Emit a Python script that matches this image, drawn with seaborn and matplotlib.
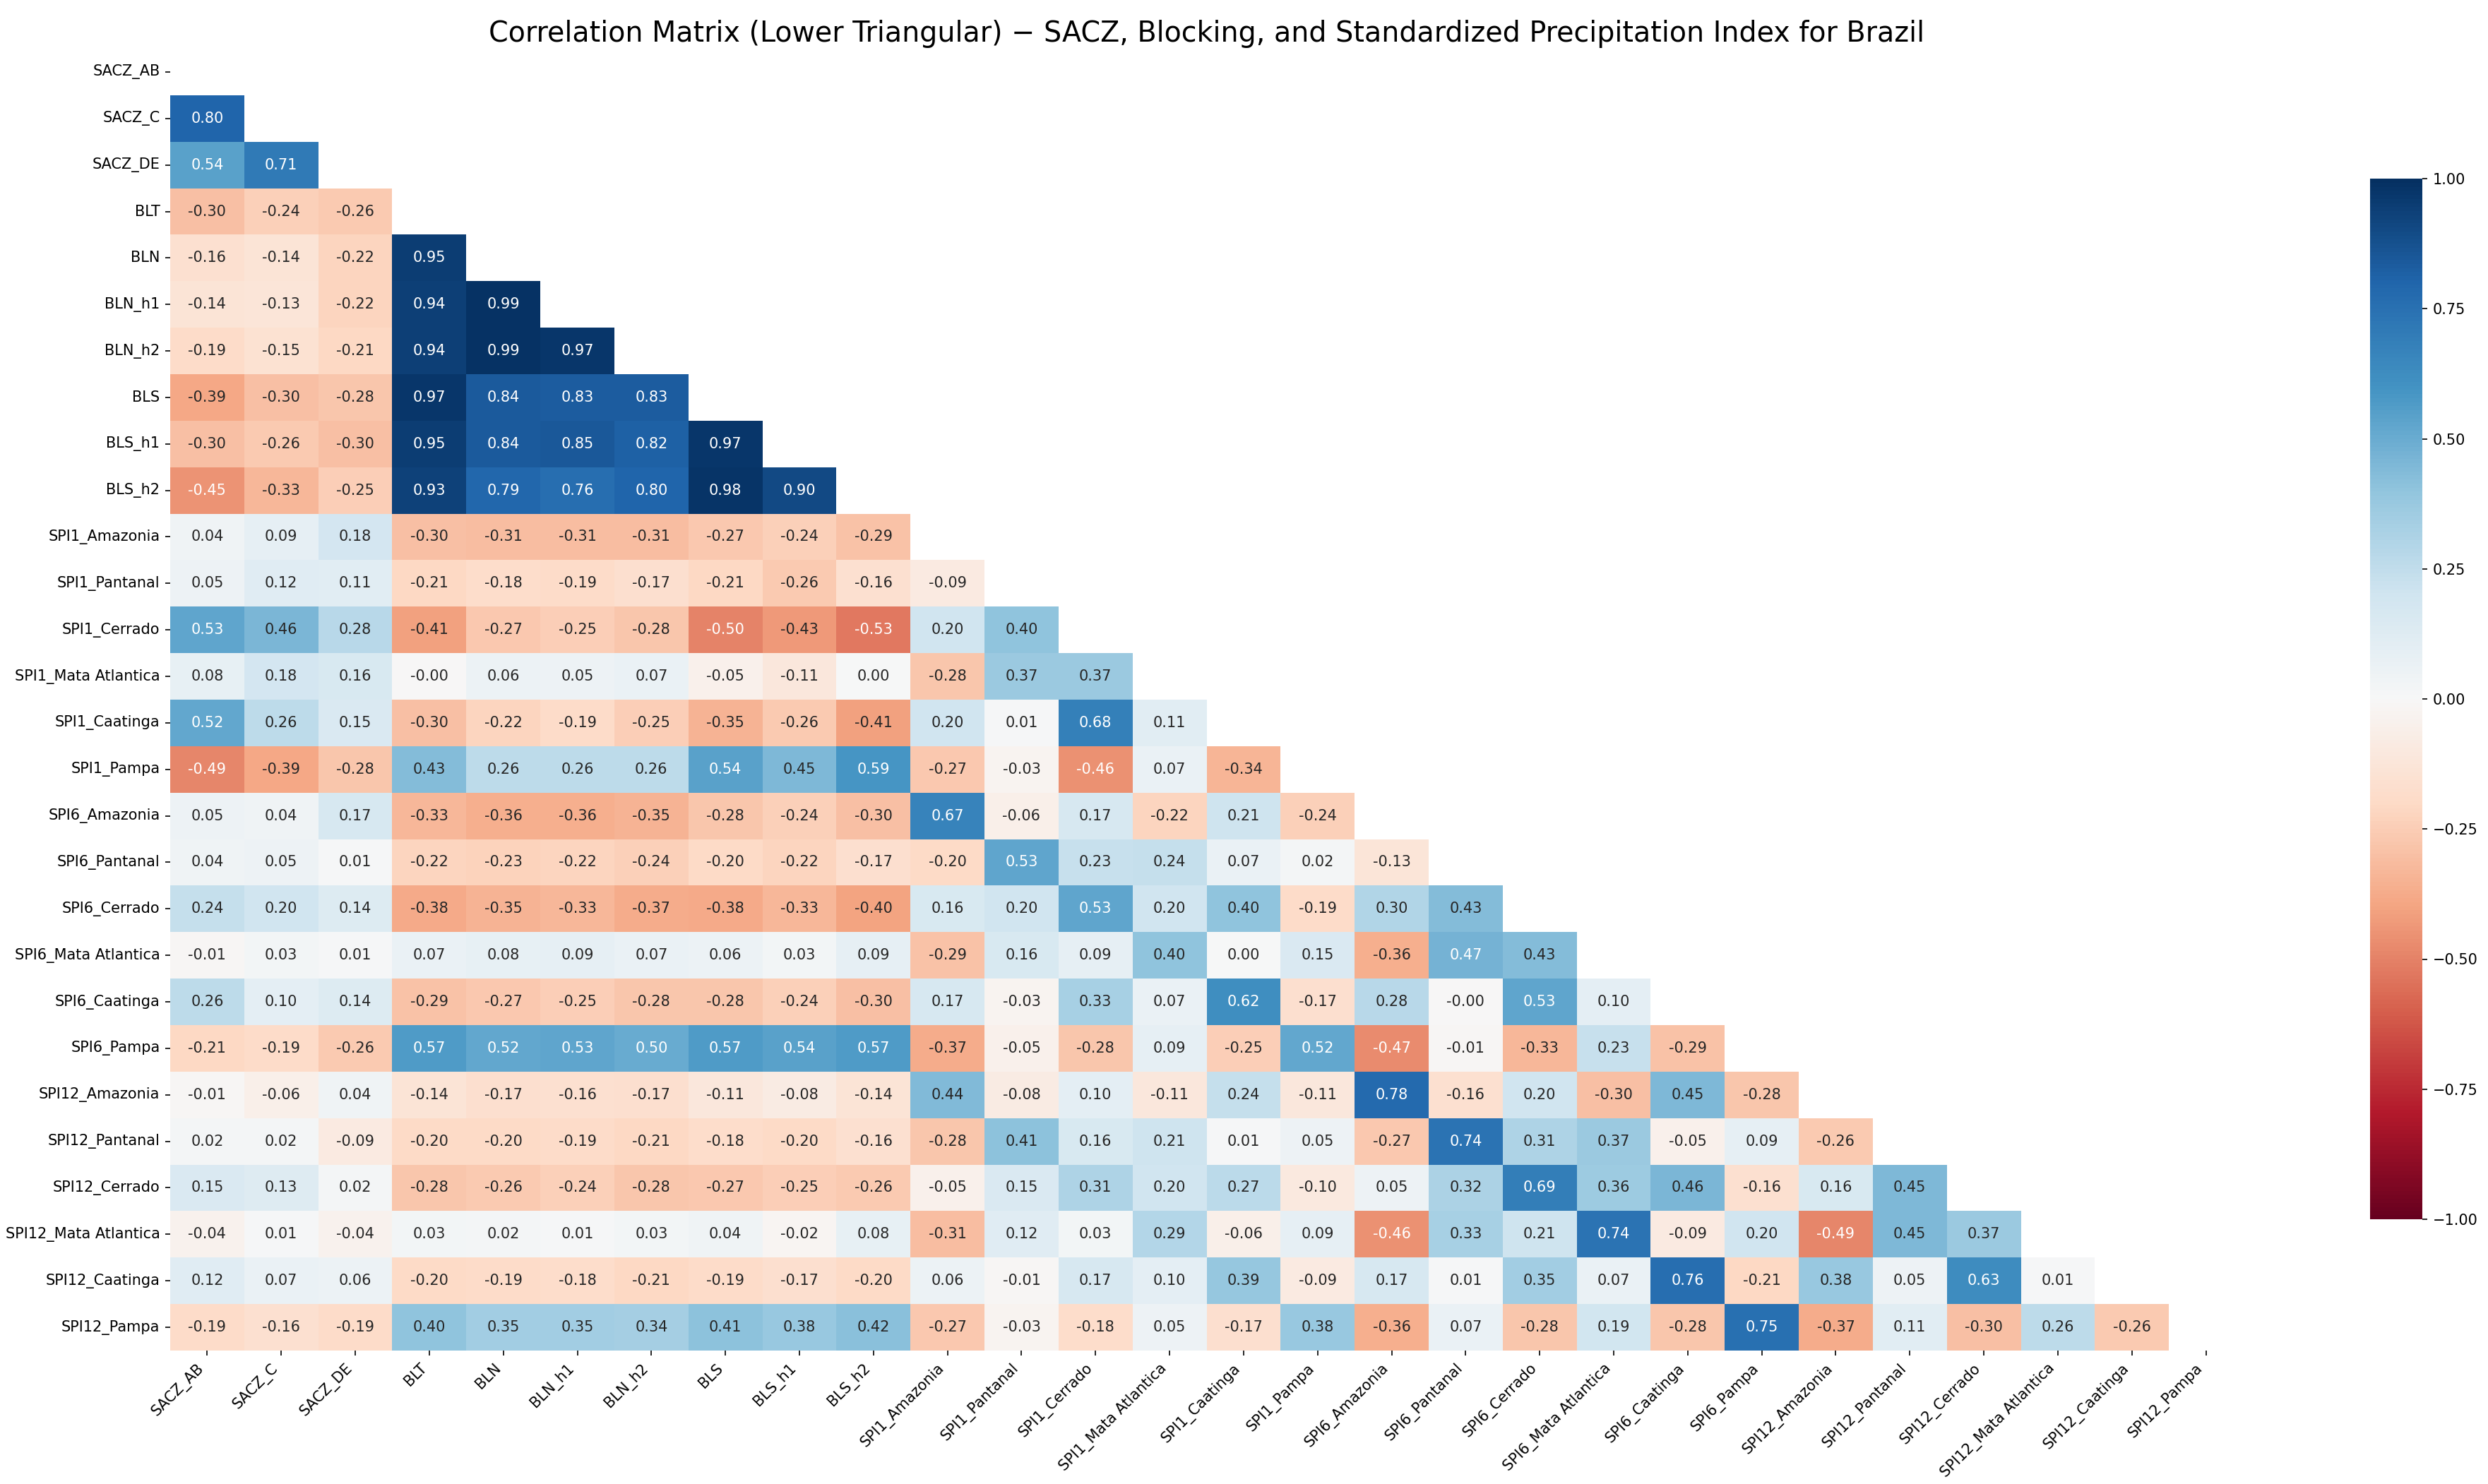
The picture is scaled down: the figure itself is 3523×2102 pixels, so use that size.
import numpy as np
import pandas as pd
import matplotlib
matplotlib.use("Agg")
import matplotlib.pyplot as plt
import seaborn as sns

variables = ["SACZ_AB", "SACZ_C", "SACZ_DE", "BLT", "BLN", "BLN_h1", "BLN_h2",
             "BLS", "BLS_h1", "BLS_h2",
             "SPI1_Amazonia", "SPI1_Pantanal", "SPI1_Cerrado", "SPI1_Mata Atlantica",
             "SPI1_Caatinga", "SPI1_Pampa",
             "SPI6_Amazonia", "SPI6_Pantanal", "SPI6_Cerrado", "SPI6_Mata Atlantica",
             "SPI6_Caatinga", "SPI6_Pampa",
             "SPI12_Amazonia", "SPI12_Pantanal", "SPI12_Cerrado", "SPI12_Mata Atlantica",
             "SPI12_Caatinga", "SPI12_Pampa"]

# lower-triangular correlations, row by row (row i holds columns 0..i-1)
row_SACZ_C = [0.80]
row_SACZ_DE = [0.54, 0.71]
row_BLT = [-0.30, -0.24, -0.26]
row_BLN = [-0.16, -0.14, -0.22, 0.95]
row_BLN_h1 = [-0.14, -0.13, -0.22, 0.94, 0.99]
row_BLN_h2 = [-0.19, -0.15, -0.21, 0.94, 0.99, 0.97]
row_BLS = [-0.39, -0.30, -0.28, 0.97, 0.84, 0.83, 0.83]
row_BLS_h1 = [-0.30, -0.26, -0.30, 0.95, 0.84, 0.85, 0.82, 0.97]
row_BLS_h2 = [-0.45, -0.33, -0.25, 0.93, 0.79, 0.76, 0.80, 0.98, 0.90]
row_SPI1_Amazonia = [0.04, 0.09, 0.18, -0.30, -0.31, -0.31, -0.31, -0.27, -0.24, -0.29]
row_SPI1_Pantanal = [0.05, 0.12, 0.11, -0.21, -0.18, -0.19, -0.17, -0.21, -0.26, -0.16, -0.09]
row_SPI1_Cerrado = [0.53, 0.46, 0.28, -0.41, -0.27, -0.25, -0.28, -0.50, -0.43, -0.53, 0.20, 0.40]
row_SPI1_Mata = [0.08, 0.18, 0.16, -0.001, 0.06, 0.05, 0.07, -0.05, -0.11, 0.00, -0.28, 0.37, 0.37]
row_SPI1_Caatinga = [0.52, 0.26, 0.15, -0.30, -0.22, -0.19, -0.25, -0.35, -0.26, -0.41, 0.20, 0.01,
                     0.68, 0.11]
row_SPI1_Pampa = [-0.49, -0.39, -0.28, 0.43, 0.26, 0.26, 0.26, 0.54, 0.45, 0.59, -0.27, -0.03,
                  -0.46, 0.07, -0.34]
row_SPI6_Amazonia = [0.05, 0.04, 0.17, -0.33, -0.36, -0.36, -0.35, -0.28, -0.24, -0.30, 0.67, -0.06,
                     0.17, -0.22, 0.21, -0.24]
row_SPI6_Pantanal = [0.04, 0.05, 0.01, -0.22, -0.23, -0.22, -0.24, -0.20, -0.22, -0.17, -0.20, 0.53,
                     0.23, 0.24, 0.07, 0.02, -0.13]
row_SPI6_Cerrado = [0.24, 0.20, 0.14, -0.38, -0.35, -0.33, -0.37, -0.38, -0.33, -0.40, 0.16, 0.20,
                    0.53, 0.20, 0.40, -0.19, 0.30, 0.43]
row_SPI6_Mata = [-0.01, 0.03, 0.01, 0.07, 0.08, 0.09, 0.07, 0.06, 0.03, 0.09, -0.29, 0.16,
                 0.09, 0.40, 0.00, 0.15, -0.36, 0.47, 0.43]
row_SPI6_Caatinga = [0.26, 0.10, 0.14, -0.29, -0.27, -0.25, -0.28, -0.28, -0.24, -0.30, 0.17, -0.03,
                     0.33, 0.07, 0.62, -0.17, 0.28, -0.001, 0.53, 0.10]
row_SPI6_Pampa = [-0.21, -0.19, -0.26, 0.57, 0.52, 0.53, 0.50, 0.57, 0.54, 0.57, -0.37, -0.05,
                  -0.28, 0.09, -0.25, 0.52, -0.47, -0.01, -0.33, 0.23, -0.29]
row_SPI12_Amazonia = [-0.01, -0.06, 0.04, -0.14, -0.17, -0.16, -0.17, -0.11, -0.08, -0.14, 0.44, -0.08,
                      0.10, -0.11, 0.24, -0.11, 0.78, -0.16, 0.20, -0.30, 0.45, -0.28]
row_SPI12_Pantanal = [0.02, 0.02, -0.09, -0.20, -0.20, -0.19, -0.21, -0.18, -0.20, -0.16, -0.28, 0.41,
                      0.16, 0.21, 0.01, 0.05, -0.27, 0.74, 0.31, 0.37, -0.05, 0.09, -0.26]
row_SPI12_Cerrado = [0.15, 0.13, 0.02, -0.28, -0.26, -0.24, -0.28, -0.27, -0.25, -0.26, -0.05, 0.15,
                     0.31, 0.20, 0.27, -0.10, 0.05, 0.32, 0.69, 0.36, 0.46, -0.16, 0.16, 0.45]
row_SPI12_Mata = [-0.04, 0.01, -0.04, 0.03, 0.02, 0.01, 0.03, 0.04, -0.02, 0.08, -0.31, 0.12,
                  0.03, 0.29, -0.06, 0.09, -0.46, 0.33, 0.21, 0.74, -0.09, 0.20, -0.49, 0.45, 0.37]
row_SPI12_Caatinga = [0.12, 0.07, 0.06, -0.20, -0.19, -0.18, -0.21, -0.19, -0.17, -0.20, 0.06, -0.01,
                      0.17, 0.10, 0.39, -0.09, 0.17, 0.01, 0.35, 0.07, 0.76, -0.21, 0.38, 0.05,
                      0.63, 0.01]
row_SPI12_Pampa = [-0.19, -0.16, -0.19, 0.40, 0.35, 0.35, 0.34, 0.41, 0.38, 0.42, -0.27, -0.03,
                   -0.18, 0.05, -0.17, 0.38, -0.36, 0.07, -0.28, 0.19, -0.28, 0.75, -0.37, 0.11,
                   -0.30, 0.26, -0.26]

lower_rows = [[], row_SACZ_C, row_SACZ_DE, row_BLT, row_BLN, row_BLN_h1, row_BLN_h2, row_BLS,
              row_BLS_h1, row_BLS_h2, row_SPI1_Amazonia, row_SPI1_Pantanal, row_SPI1_Cerrado,
              row_SPI1_Mata, row_SPI1_Caatinga, row_SPI1_Pampa, row_SPI6_Amazonia,
              row_SPI6_Pantanal, row_SPI6_Cerrado, row_SPI6_Mata, row_SPI6_Caatinga,
              row_SPI6_Pampa, row_SPI12_Amazonia, row_SPI12_Pantanal, row_SPI12_Cerrado,
              row_SPI12_Mata, row_SPI12_Caatinga, row_SPI12_Pampa]

n = len(variables)
corr = np.eye(n)
for i, row in enumerate(lower_rows):
    for j, v in enumerate(row):
        corr[i, j] = v
        corr[j, i] = v
corr_df = pd.DataFrame(corr, index=variables, columns=variables)
mask = np.triu(np.ones_like(corr, dtype=bool))

W, H, DPI = 3523, 2102, 150
fig = plt.figure(figsize=(W / DPI, H / DPI), dpi=DPI)
ax = fig.add_axes([241 / W, 1 - 1913 / H, (3176 - 241) / W, (1913 - 69) / H])
cax = fig.add_axes([3356 / W, 1 - 1727 / H, 74 / W, 1474 / H])

sns.heatmap(corr_df, mask=mask, cmap="RdBu", vmin=-1, vmax=1, center=0,
            annot=True, fmt=".2f", annot_kws={"fontsize": 10},
            ax=ax, cbar_ax=cax)

ax.set_title("Correlation Matrix (Lower Triangular) \u2212 SACZ, Blocking, and Standardized "
             "Precipitation Index for Brazil", fontsize=19, pad=5)
ax.set_xticklabels(ax.get_xticklabels(), rotation=45, ha="right", fontsize=10)
ax.set_yticklabels(ax.get_yticklabels(), rotation=0, fontsize=10)
cax.tick_params(labelsize=10)

fig.savefig("out.png", dpi=DPI)
